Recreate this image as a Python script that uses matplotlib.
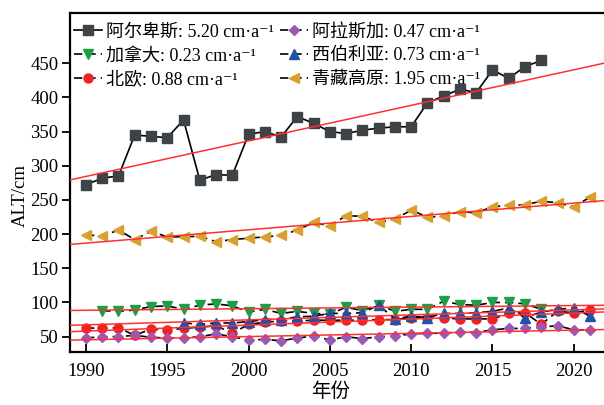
import numpy as np
import matplotlib
matplotlib.use("Agg")
import matplotlib.pyplot as plt

plt.rcParams['font.family'] = ['Liberation Serif', 'DejaVu Serif', 'Noto Sans CJK SC']
plt.rcParams['axes.unicode_minus'] = True

# Active-layer thickness (cm) by region
alps_years = list(range(1990, 2019))
alps = [272, 282, 285, 345, 343, 341, 367, 279, 287, 286, 346, 350, 342, 372, 362,
        350, 347, 352, 355, 357, 357, 392, 402, 412, 407, 440, 428, 445, 454]

alaska_years = list(range(1990, 2022))
alaska = [48, 50, 50, 52, 49, 48, 48, 50, 54, 50, 45, 46, 44, 48, 51, 45, 50, 47,
          50, 51, 54, 55, 55, 57, 56, 60, 62, 62, 64, 66, 60, 60]

canada_years = list(range(1991, 2019))
canada = [88, 87, 89, 94, 95, 90, 96, 98, 95, 86, 90, 84, 87, 84, 83, 93, 88, 97,
          87, 90, 90, 102, 97, 96, 100, 100, 98, 90]

siberia_years = list(range(1996, 2022))
siberia = [70, 68, 70, 70, 72, 75, 75, 79, 80, 84, 84, 85, 96, 76, 80, 78, 84, 84,
           85, 87, 92, 78, 86, 90, 92, 80]

nordic_years = list(range(1990, 2022))
nordic = [63, 62, 63, 52, 61, 60, 62, 64, 66, 55, 68, 71, 73, 73, 74, 74, 74, 74,
          75, 75, 78, 77, 77, 76, 76, 76, 84, 85, 68, 87, 85, 89]

tibet_years = list(range(1990, 2022))
tibet = [199, 197, 206, 192, 204, 196, 196, 197, 189, 192, 194, 196, 198, 206, 217,
         212, 227, 226, 217, 222, 235, 225, 226, 233, 231, 240, 242, 243, 248, 246,
         240, 254]

# Trend rates (cm/a)
slopes = {'alps': 5.20, 'alaska': 0.47, 'canada': 0.23,
          'siberia': 0.73, 'nordic': 0.88, 'tibet': 1.95}

names = {'alps': '阿尔卑斯', 'alaska': '阿拉斯加', 'canada': '加拿大',
         'siberia': '西伯利亚', 'nordic': '北欧', 'tibet': '青藏高原'}

series = {
    'alps': (alps_years, alps, 's', '#3d4346', '-'),
    'canada': (canada_years, canada, 'v', '#1f9e48', '--'),
    'nordic': (nordic_years, nordic, 'o', '#ee2222', '--'),
    'alaska': (alaska_years, alaska, 'D', '#9b59b6', '--'),
    'siberia': (siberia_years, siberia, '^', '#1f52a8', '--'),
    'tibet': (tibet_years, tibet, '<', '#d9a030', '--'),
}

fig = plt.figure(figsize=(6.04, 4.05), dpi=100)
ax = fig.add_axes([0.1154, 0.1316, 0.8884, 0.8356])

xlim = (1989, 2022)
handles = []
for key, (yrs, vals, mk, col, ls) in series.items():
    yrs = np.asarray(yrs, float)
    vals = np.asarray(vals, float)
    ms = 6.5 if mk != 'D' else 5.5
    line, = ax.plot(yrs, vals, color='black', lw=1.2, ls=ls,
                    dashes=(5, 3) if ls == '--' else (None, None),
                    marker=mk, ms=ms, mfc=col, mec=col, zorder=3,
                    label=f"{names[key]}: {slopes[key]:.2f} cm·a\u207b\u00b9")
    handles.append(line)
    # linear trend with the stated rate, passing through the series mean
    b = slopes[key]
    a = vals.mean() - b * yrs.mean()
    xs = np.array(xlim, float)
    ax.plot(xs, a + b * xs, color='#ff3030', lw=1.1, zorder=4)

ax.set_xlim(*xlim)
ax.set_ylim(28, 523)
ax.set_xticks(range(1990, 2021, 5))
ax.set_yticks(range(50, 451, 50))

for s in ax.spines.values():
    s.set_linewidth(1.6)
ax.tick_params(axis='x', direction='in', length=6, width=1.3, labelsize=13.5, pad=8)
ax.tick_params(axis='y', direction='out', length=6, width=1.3, labelsize=13.5, pad=2)

ax.set_ylabel('ALT/cm', fontsize=13.5)
ax.yaxis.set_label_coords(-0.076, 0.463)
ax.set_xlabel('年份', fontsize=14)
ax.xaxis.set_label_coords(0.487, -0.092)

leg = ax.legend(handles=handles, ncol=2, loc='upper left',
                bbox_to_anchor=(0.008, 0.97), frameon=False,
                fontsize=13, handlelength=1.55, handletextpad=0.25,
                columnspacing=0.3, labelspacing=0.38, borderpad=0,
                borderaxespad=0)

fig.savefig('out.png', dpi=100)
